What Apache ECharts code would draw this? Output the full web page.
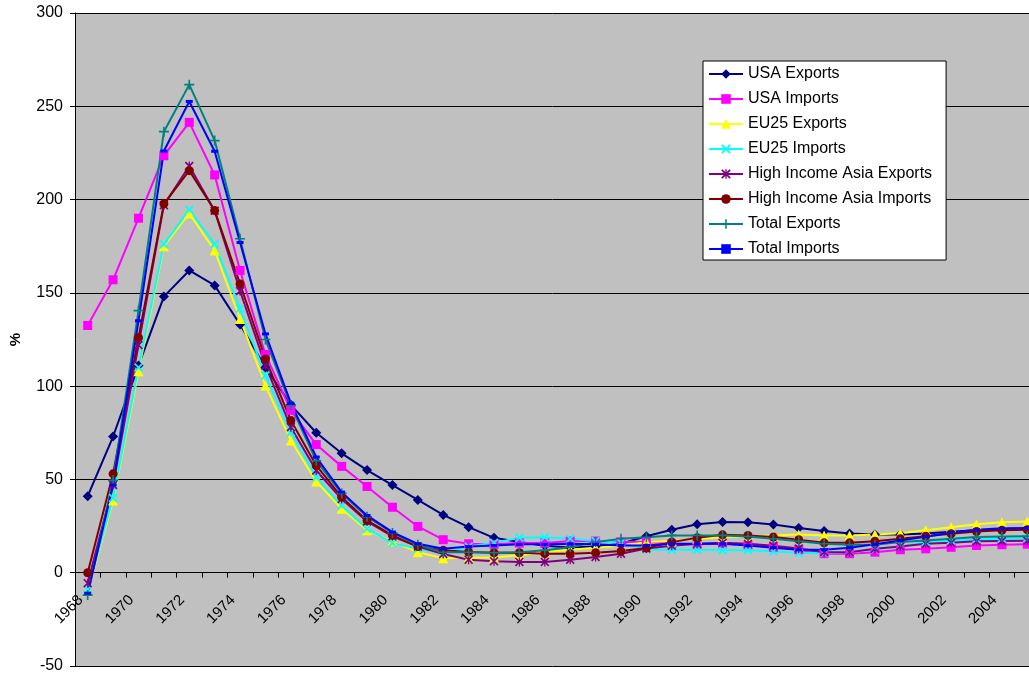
<!DOCTYPE html>
<html>
<head>
<meta charset="utf-8">
<title>Trade ratio chart</title>
<script src="https://cdn.jsdelivr.net/npm/echarts@6.0.0/dist/echarts.min.js"></script>
<style>
  html, body { margin: 0; padding: 0; background: #fff; }
  #chart { width: 1029px; height: 674px; }
</style>
</head>
<body>
<div id="chart"></div>
<script>
// categories
const years = [];
for (let y = 1968; y <= 2005; y++) years.push(String(y));

// y axis ticks
const yMin = -50, yMax = 300, yStep = 50;

// series values
const usaExports = [41, 73, 111, 148, 162, 154, 133, 110, 90, 75, 64, 55, 47, 39, 31, 24.4, 18.7, 16.5, 14.5, 13.5, 14, 15.5, 19.5, 23, 26, 27.2, 27, 25.8, 24, 22.3, 21, 20.5, 20.5, 21, 22, 22.8, 23.2, 23.5];
const usaImports = [132.5, 157, 190, 223.5, 241.4, 213.2, 162, 117, 87, 68.7, 57, 46.2, 35.1, 24.8, 17.7, 15.5, 15.2, 15.9, 15.9, 17, 17, 16.6, 16.4, 15.5, 15.2, 15.5, 15, 13.7, 12.3, 10.2, 10.2, 11, 12.3, 12.8, 13.6, 14.6, 15, 15.3];
const eu25Exports = [-10, 38.7, 108, 175, 192.6, 172.7, 136, 100.3, 70.9, 48.9, 34.3, 22.7, 16.8, 11, 7.8, 8, 8.2, 9.3, 11, 12.3, 13.4, 14.4, 16.4, 17, 18.2, 19, 19.5, 20, 20.5, 20, 20, 20.5, 21.2, 22.7, 24.4, 26, 27, 27.5];
const eu25Imports = [-9, 40, 110, 176, 194.6, 176.2, 141.6, 105.7, 75.3, 51.2, 36, 23.6, 15.9, 12.9, 10.5, 14, 16, 18.7, 19, 18.2, 17, 16, 12.5, 12.3, 12.3, 12, 12, 11.5, 10.5, 10.5, 11, 12.5, 14, 16.4, 17.3, 17.8, 18.2, 18.5];
const hiaExports = [-5.6, 47, 122, 197, 218, 194, 151, 111, 78, 54.8, 39.5, 27.5, 19.5, 14, 10, 7, 6.2, 5.8, 5.8, 7, 8.4, 10.2, 13, 14.5, 15.5, 16, 15.5, 14.5, 13, 11, 11, 12.8, 14.1, 15.5, 16, 16.8, 17, 17.1];
const hiaImports = [0, 53, 126, 197.7, 215.5, 194.1, 154.8, 114.6, 81.6, 57.5, 40.5, 28, 20, 14, 12, 11.1, 10.7, 10.7, 10.2, 10.2, 10.7, 11.6, 13.2, 16.4, 18.7, 20.3, 20, 19.1, 17.7, 16, 16, 16.9, 18.2, 19.6, 20.9, 22.1, 22.7, 23];
const totalExports = [-12, 49.5, 140.5, 236.4, 261.6, 231.6, 179, 125, 89.6, 60, 42.5, 30, 21.3, 15, 11, 11, 10.7, 11, 12, 13.7, 16.4, 18.2, 19, 20, 20, 20, 19.4, 18.2, 16.9, 15.5, 15, 15, 16.4, 17.3, 18.2, 19.1, 19.4, 19.6];
const totalImports = [-11, 47, 135, 226, 252.6, 225.9, 177, 128, 90.9, 62, 43.2, 30.7, 21.8, 15.5, 12.9, 14, 14.6, 15.2, 15.2, 15.5, 15.2, 14.6, 14.6, 15.5, 15.5, 15.5, 14.6, 13.4, 12.3, 12.3, 13.4, 15.2, 17.3, 19.3, 21.5, 23, 23.8, 24];

// marker shapes that echarts has no built-in for
const xMark = 'path://M0,1.4L1.4,0L5,3.6L8.6,0L10,1.4L6.4,5L10,8.6L8.6,10L5,6.4L1.4,10L0,8.6L3.6,5Z';
const starMark = 'path://M0,1.3L1.3,0L5,3.7L8.7,0L10,1.3L6.3,5L10,8.7L8.7,10L5,6.3L1.3,10L0,8.7L3.7,5Z M4.3,0H5.7V10H4.3Z';
const plusMark = 'path://M4.2,0H5.8V4.2H10V5.8H5.8V10H4.2V5.8H0V4.2H4.2Z';

const font = 'Liberation Sans, Arial, sans-serif';

// plot area (the right edge runs past the picture, as in the original)
const gridTop = 13, gridBottom = 8;
const plotH = 674 - gridTop - gridBottom;
// distance from the bottom edge up to the zero line
const zeroUp = plotH * (0 - yMin) / (yMax - yMin);

function mkSeries(name, data, color, symbol, size) {
    return {
        name: name,
        type: 'line',
        data: data,
        xAxisIndex: 0,
        symbol: symbol,
        symbolSize: size,
        showAllSymbol: true,
        color: color,
        lineStyle: { color: color, width: 2 },
        itemStyle: { color: color },
        emphasis: { disabled: true },
        animation: false
    };
}

const chart = echarts.init(document.getElementById('chart'), null, { renderer: 'canvas' });

chart.setOption({
    backgroundColor: '#fff',
    animation: false,
    grid: {
        left: 75,
        top: gridTop,
        bottom: gridBottom,
        right: -11,
        outerBoundsMode: 'none',
        containLabel: false,
        show: true,
        backgroundColor: '#C0C0C0',
        borderWidth: 0
    },
    legend: {
        orient: 'vertical',
        left: 703,
        top: 61,
        backgroundColor: '#fff',
        borderColor: '#000',
        borderWidth: 1,
        borderRadius: 0,
        padding: [5, 14, 3, 5],
        itemWidth: 34,
        itemHeight: 12,
        itemGap: 9,
        textStyle: { fontSize: 16, color: '#000', fontFamily: font },
        data: ['USA Exports', 'USA Imports', 'EU25 Exports', 'EU25 Imports',
            'High Income Asia Exports', 'High Income Asia Imports', 'Total Exports', 'Total Imports']
    },
    xAxis: [{
        // line and ticks on the zero line
        type: 'category',
        data: years,
        boundaryGap: true,
        axisLine: { onZero: true, lineStyle: { color: '#000', width: 1 } },
        axisTick: { show: true, interval: 0, length: 5, lineStyle: { color: '#000' } },
        axisLabel: { show: false },
        splitLine: { show: false }
    }, {
        // labels only, lifted up to sit under the zero line
        type: 'category',
        data: years,
        boundaryGap: true,
        position: 'bottom',
        offset: -zeroUp,
        axisLine: { show: false, onZero: false },
        axisTick: { show: false },
        axisLabel: {
            interval: 1,
            rotate: 45,
            margin: 18,
            padding: [0, 10, 0, 0],
            fontSize: 15,
            color: '#000',
            fontFamily: font
        },
        splitLine: { show: false }
    }],
    yAxis: {
        type: 'value',
        min: yMin,
        max: yMax,
        interval: yStep,
        name: '%',
        nameLocation: 'middle',
        nameRotate: 90,
        nameGap: 52,
        nameTextStyle: { fontSize: 15, fontWeight: 'bold', color: '#000', fontFamily: font },
        axisLine: { show: true, onZero: false, lineStyle: { color: '#000', width: 1 } },
        axisTick: { show: true, length: 5, lineStyle: { color: '#000' } },
        axisLabel: { margin: 12, fontSize: 16, color: '#000', fontFamily: font },
        splitLine: { show: true, lineStyle: { color: '#000', width: 1 } }
    },
    series: [
        mkSeries('USA Exports', usaExports, '#000080', 'diamond', 10),
        mkSeries('USA Imports', usaImports, '#FF00FF', 'rect', 9),
        mkSeries('EU25 Exports', eu25Exports, '#FFFF00', 'triangle', 10),
        mkSeries('EU25 Imports', eu25Imports, '#00FFFF', xMark, 9),
        mkSeries('High Income Asia Exports', hiaExports, '#800080', starMark, 9),
        mkSeries('High Income Asia Imports', hiaImports, '#800000', 'circle', 9),
        mkSeries('Total Exports', totalExports, '#008080', plusMark, 10),
        mkSeries('Total Imports', totalImports, '#0000FF', 'rect', [7, 3])
    ]
});
</script>
</body>
</html>
